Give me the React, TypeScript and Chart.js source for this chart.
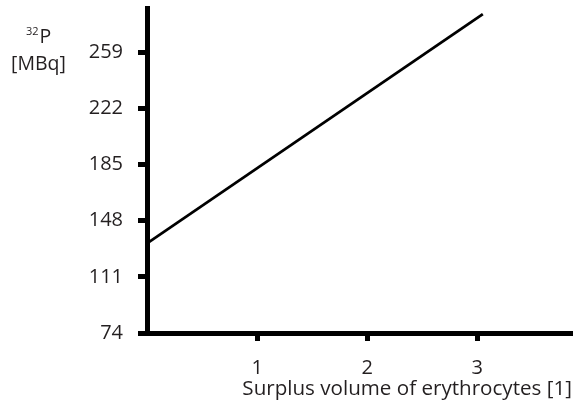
import React, { useEffect, useRef } from "react";
import { Chart, registerables } from "chart.js";

Chart.register(...registerables);

// ---- data ----
const xTickValues = [1, 2, 3];
const yTickValues = [74, 111, 148, 185, 222, 259];
const lineXValues = [0, 3.05];
const lineYValues = [133, 284];
const xAxisTitle = "Surplus volume of erythrocytes [1]";
const yUnitSuperscript = "32";
const yUnitSymbol = "P";
const yUnitLine2 = "[MBq]";

const FONT = '"Open Sans", "DejaVu Sans", sans-serif';
const TEXT = "#231f20";

const unitLabelPlugin = {
  id: "unitLabel",
  afterDraw(chart: any) {
    const ctx = chart.ctx;
    ctx.save();
    ctx.fillStyle = TEXT;
    ctx.textBaseline = "alphabetic";
    ctx.textAlign = "left";
    ctx.font = `11px ${FONT}`;
    const supW = ctx.measureText(yUnitSuperscript).width;
    ctx.fillText(yUnitSuperscript, 26, 35);
    ctx.font = `19.5px ${FONT}`;
    ctx.fillText(yUnitSymbol, 26 + supW + 1, 43);
    ctx.fillText(yUnitLine2, 11, 70);
    ctx.restore();
  },
};

export default function App() {
  const canvasRef = useRef<HTMLCanvasElement | null>(null);

  useEffect(() => {
    const canvas = canvasRef.current;
    if (!canvas) return;
    const points = lineXValues.map((x, i) => ({ x, y: lineYValues[i] }));
    const chart = new Chart(canvas, {
      type: "scatter",
      data: {
        datasets: [
          {
            data: points,
            showLine: true,
            borderColor: "#000",
            borderWidth: 2.8,
            pointRadius: 0,
            fill: false,
          },
        ],
      },
      options: {
        responsive: false,
        animation: false,
        layout: { padding: { top: 8, right: 2, left: 0, bottom: 0 } },
        plugins: {
          legend: { display: false },
          tooltip: { enabled: false },
        },
        scales: {
          x: {
            type: "linear",
            min: 0,
            max: 3.86,
            afterBuildTicks: (scale: any) => {
              scale.ticks = xTickValues.map((v) => ({ value: v }));
            },
            afterFit: (scale: any) => {
              scale.height = 75;
              scale.paddingLeft = 0;
              scale.paddingRight = 0;
            },
            grid: {
              display: true,
              drawOnChartArea: false,
              drawTicks: true,
              tickLength: 8,
              tickWidth: 5,
              tickColor: "#000",
            },
            border: { display: true, width: 5, color: "#000" },
            ticks: {
              padding: 15,
              color: TEXT,
              font: { family: FONT, size: 20 },
              callback: (v: any) => String(v),
            },
            title: {
              display: true,
              text: xAxisTitle,
              align: "end",
              color: TEXT,
              font: { family: FONT, size: 20.6 },
              padding: { top: 0, bottom: 7 },
            },
          },
          y: {
            type: "linear",
            min: 74,
            max: 288,
            afterBuildTicks: (scale: any) => {
              scale.ticks = yTickValues.map((v) => ({ value: v }));
            },
            afterFit: (scale: any) => {
              scale.width = 147;
              scale.paddingTop = 0;
              scale.paddingBottom = 0;
            },
            grid: {
              display: true,
              drawOnChartArea: false,
              drawTicks: true,
              tickLength: 9,
              tickWidth: 5,
              tickColor: "#000",
            },
            border: { display: true, width: 5, color: "#000" },
            ticks: {
              padding: 15,
              color: TEXT,
              font: { family: FONT, size: 20 },
              callback: (v: any) => String(v),
            },
          },
        },
      },
      plugins: [unitLabelPlugin],
    });
    return () => chart.destroy();
  }, []);

  return (
    <div style={{ position: "fixed", left: 0, top: 0, width: 574, height: 408, background: "#fff" }}>
      <canvas ref={canvasRef} width={574} height={408} style={{ display: "block", width: 574, height: 408 }} />
    </div>
  );
}
